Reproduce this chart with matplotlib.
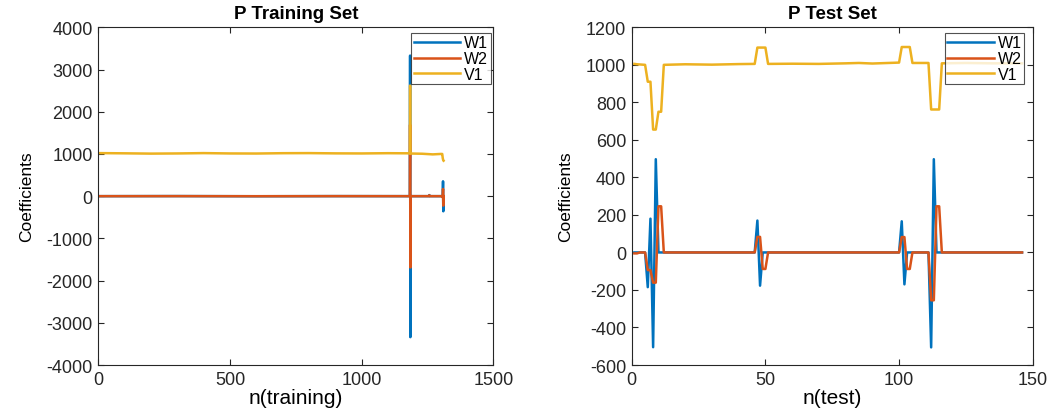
import numpy as np
import matplotlib.pyplot as plt

# MATLAB default colour order
C_W1 = "#0072BD"
C_W2 = "#D95319"
C_V1 = "#EDB120"

# Training set: (sample index, coefficient) breakpoints
train_w1_n = [1, 300, 600, 900, 1183, 1184, 1185, 1186, 1255, 1257, 1259, 1308, 1309, 1310, 1311]
train_w1_v = [0, 2, -2, 1, 0, 3330, -3340, 0, 0, 25, 0, 0, 352, -358, 0]

train_w2_n = [1, 300, 600, 900, 1183, 1184, 1185, 1186, 1255, 1257, 1259, 1306, 1308, 1309, 1310, 1311]
train_w2_v = [0, 1, -1, 1, 0, 1690, -1690, 0, 0, 20, 0, 0, -30, 170, -225, 0]

train_v1_n = [1, 100, 200, 300, 400, 500, 600, 700, 800, 900, 1000, 1100, 1183,
              1184, 1185, 1186, 1230, 1270, 1300, 1306, 1308, 1310, 1311]
train_v1_v = [1020, 1015, 1008, 1012, 1020, 1012, 1010, 1018, 1020, 1014, 1012, 1018, 1015,
              2620, 1010, 1010, 1005, 990, 1000, 1000, 900, 845, 840]

# Test set breakpoints
test_w1_n = [1, 5, 6, 7, 8, 9, 10, 46, 47, 48, 49, 100, 101, 102, 103, 111, 112, 113, 114, 146]
test_w1_v = [0, 0, -185, 180, -505, 497, 0, 0, 170, -177, 0, 0, 166, -170, 0, 0, -506, 497, 0, 0]

test_w2_n = [1, 2, 3, 5, 6, 7, 8, 9, 10, 11, 12, 46, 47, 48, 49, 50, 51,
             100, 101, 102, 103, 104, 105, 111, 112, 113, 114, 115, 116, 146]
test_w2_v = [-5, -5, 0, 0, -94, -94, -161, -161, 246, 246, 0, 0, 83, 83, -88, -88, 0,
             0, 82, 82, -88, -88, 0, 0, -255, -255, 246, 246, 0, 0]

test_v1_n = [1, 2, 5, 6, 7, 8, 9, 10, 11, 12, 20, 30, 40, 46, 47, 50, 51, 60, 70, 80, 85,
             90, 100, 101, 104, 105, 111, 112, 115, 116, 125, 135, 146]
test_v1_v = [1005, 1003, 1000, 910, 910, 655, 655, 750, 750, 1000, 1003, 1001, 1004, 1005,
             1092, 1092, 1005, 1006, 1005, 1008, 1010, 1007, 1012, 1095, 1095, 1010, 1010,
             762, 762, 1008, 1010, 1008, 1008]

plt.rcParams["font.family"] = ["Liberation Sans", "DejaVu Sans"]
plt.rcParams["axes.unicode_minus"] = False

fig = plt.figure(figsize=(10.55, 4.14), dpi=100)
ax1 = fig.add_axes([0.0932, 0.1159, 0.3744, 0.8157])
ax2 = fig.add_axes([0.5988, 0.1159, 0.3801, 0.8157])


def style_axis(ax, title, xlabel, leg_anchor):
    ax.set_title(title, fontsize=13.5, fontweight="bold", pad=7)
    ax.set_xlabel(xlabel, fontsize=15, labelpad=0)
    ax.set_ylabel("Coefficients", fontsize=12.5, labelpad=9)
    ax.tick_params(direction="in", top=True, right=True, length=4,
                   labelsize=13, colors="#262626", pad=4)
    for s in ax.spines.values():
        s.set_color("#262626")
        s.set_linewidth(0.8)
    leg = ax.legend(loc="upper right", bbox_to_anchor=leg_anchor, fontsize=11.5,
                    frameon=True, fancybox=False, borderpad=0.15, labelspacing=0.05,
                    handlelength=2.9, handletextpad=0.25, borderaxespad=0)
    leg.get_frame().set_edgecolor("#262626")
    leg.get_frame().set_linewidth(0.8)


ax1.plot(train_w1_n, train_w1_v, color=C_W1, lw=1.8, label="W1")
ax1.plot(train_w2_n, train_w2_v, color=C_W2, lw=1.8, label="W2")
ax1.plot(train_v1_n, train_v1_v, color=C_V1, lw=1.8, label="V1")
ax1.set_xlim(0, 1500)
ax1.set_ylim(-4000, 4000)
ax1.set_xticks([0, 500, 1000, 1500])
ax1.set_yticks(np.arange(-4000, 4001, 1000))
style_axis(ax1, "P Training Set", "n(training)", (0.993, 0.983))

ax2.plot(test_w1_n, test_w1_v, color=C_W1, lw=1.8, label="W1")
ax2.plot(test_w2_n, test_w2_v, color=C_W2, lw=1.8, label="W2")
ax2.plot(test_v1_n, test_v1_v, color=C_V1, lw=1.8, label="V1")
ax2.set_xlim(0, 150)
ax2.set_ylim(-600, 1200)
ax2.set_xticks([0, 50, 100, 150])
ax2.set_yticks(np.arange(-600, 1201, 200))
style_axis(ax2, "P Test Set", "n(test)", (0.978, 0.983))

fig.savefig("out.png", dpi=100)
